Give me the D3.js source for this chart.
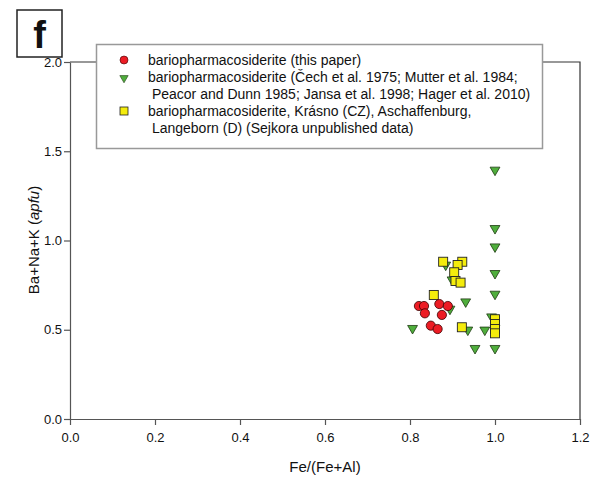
<!DOCTYPE html>
<html>
<head>
<meta charset="utf-8">
<script src="https://cdn.jsdelivr.net/npm/d3@7"></script>
<style>
  body { margin: 0; background: #fff; }
  text { font-family: "Liberation Sans", Arial, sans-serif; }
</style>
</head>
<body>
<div id="chart"></div>
<script>
// data: [Fe/(Fe+Al), Ba+Na+K]
var thisPaper = [
  [0.821, 0.633], [0.833, 0.633], [0.835, 0.592], [0.869, 0.644],
  [0.889, 0.633], [0.875, 0.583], [0.849, 0.523], [0.865, 0.504]
];
var literature = [
  [1.0, 1.395], [1.0, 1.068], [1.0, 0.965], [1.0, 0.816], [1.0, 0.70],
  [0.884, 0.863], [0.899, 0.78], [0.931, 0.657], [0.894, 0.616],
  [0.992, 0.573], [1.0, 0.51], [0.806, 0.508], [0.936, 0.499],
  [0.976, 0.499], [0.953, 0.396], [1.0, 0.396]
];
var sejkora = [
  [0.878, 0.881], [0.923, 0.881], [0.912, 0.863], [0.904, 0.822],
  [0.907, 0.773], [0.919, 0.764], [0.856, 0.695], [0.922, 0.514],
  [1.0, 0.559], [1.0, 0.532], [1.0, 0.504], [1.0, 0.480]
];
var xTicks = [0, 0.2, 0.4, 0.6, 0.8, 1.0, 1.2];
var yTicks = [0, 0.5, 1.0, 1.5, 2.0];
var legendLines = [
  ["bariopharmacosiderite (this paper)"],
  ["bariopharmacosiderite (Čech et al. 1975; Mutter et al. 1984;",
   " Peacor and Dunn 1985; Jansa et al. 1998; Hager et al. 2010)"],
  ["bariopharmacosiderite, Krásno (CZ), Aschaffenburg,",
   " Langeborn (D) (Sejkora unpublished data)"]
];

var W = 600, H = 482;
var margin = {top: 62, right: 20, bottom: 63, left: 70},
    width = 580 - margin.left,
    height = 419 - margin.top;

var svg = d3.select("#chart")
  .append("svg")
    .attr("width", W)
    .attr("height", H);

var g = svg.append("g")
    .attr("transform", "translate(" + margin.left + "," + margin.top + ")");

var x = d3.scaleLinear().domain([0, 1.2]).range([0, width]);
var y = d3.scaleLinear().domain([0, 2.0]).range([height, 0]);

// frame (top + right)
g.append("path")
    .attr("d", "M0,0H" + width + "V" + height)
    .attr("fill", "none")
    .attr("stroke", "#333")
    .attr("stroke-width", 1.2);

// x axis
var xAxis = g.append("g")
    .attr("transform", "translate(0," + height + ")")
    .call(d3.axisBottom(x).tickValues(xTicks).tickFormat(d3.format(".1f")).tickSize(6).tickSizeOuter(0));
// y axis
var yAxis = g.append("g")
    .call(d3.axisLeft(y).tickValues(yTicks).tickFormat(d3.format(".1f")).tickSize(6).tickSizeOuter(0));

[xAxis, yAxis].forEach(function(a) {
  a.select(".domain").attr("stroke", "#555").attr("stroke-width", 1.2);
  a.selectAll(".tick line").attr("stroke", "#555").attr("stroke-width", 1.2);
  a.selectAll(".tick text")
    .attr("fill", "#111")
    .style("font-size", "13px")
    .style("font-family", "'Liberation Sans', Arial, sans-serif");
});
xAxis.selectAll(".tick text").attr("dy", "1.1em");
yAxis.selectAll(".tick text").attr("x", -8);

// axis titles
svg.append("text")
    .attr("x", 325).attr("y", 472)
    .attr("text-anchor", "middle")
    .style("font-size", "15px")
    .attr("fill", "#111")
    .text("Fe/(Fe+Al)");

var yt = svg.append("text")
    .attr("transform", "translate(39,240) rotate(-90)")
    .attr("text-anchor", "middle")
    .style("font-size", "15px")
    .attr("fill", "#111");
yt.append("tspan").text("Ba+Na+K (");
yt.append("tspan").style("font-style", "italic").text("apfu");
yt.append("tspan").text(")");

// markers
var tri = d3.symbol().type(d3.symbolTriangle).size(42);

g.selectAll("path.lit")
    .data(literature)
    .enter()
    .append("path")
      .attr("class", "lit")
      .attr("d", tri)
      .attr("transform", function(d) { return "translate(" + x(d[0]) + "," + y(d[1]) + ") rotate(180)"; })
      .attr("fill", "#4fae3c")
      .attr("stroke", "#1e3a12")
      .attr("stroke-width", 0.8);

g.selectAll("rect.sej")
    .data(sejkora)
    .enter()
    .append("rect")
      .attr("class", "sej")
      .attr("x", function(d) { return x(d[0]) - 4.5; })
      .attr("y", function(d) { return y(d[1]) - 4.5; })
      .attr("width", 9).attr("height", 9)
      .attr("fill", "#f4ec0c")
      .attr("stroke", "#222")
      .attr("stroke-width", 0.9);

g.selectAll("circle.tp")
    .data(thisPaper)
    .enter()
    .append("circle")
      .attr("class", "tp")
      .attr("cx", function(d) { return x(d[0]); })
      .attr("cy", function(d) { return y(d[1]); })
      .attr("r", 4.6)
      .attr("fill", "#ec1c24")
      .attr("stroke", "#3a0000")
      .attr("stroke-width", 0.8);

// legend box
svg.append("rect")
    .attr("x", 96.5).attr("y", 44.5)
    .attr("width", 446).attr("height", 104)
    .attr("fill", "#fff")
    .attr("stroke", "#999")
    .attr("stroke-width", 1.5);

var lineY = [65, 82, 99, 116, 133];
var li = 0;
legendLines.forEach(function(lines, i) {
  var cy = lineY[li] - 5;
  if (i === 0) {
    svg.append("circle").attr("cx", 124).attr("cy", cy).attr("r", 4)
      .attr("fill", "#ec1c24").attr("stroke", "#3a0000").attr("stroke-width", 0.6);
  } else if (i === 1) {
    svg.append("path").attr("d", d3.symbol().type(d3.symbolTriangle).size(30))
      .attr("transform", "translate(124," + (cy + 1) + ") rotate(180)")
      .attr("fill", "#4fae3c").attr("stroke", "#1e3a12").attr("stroke-width", 0.6);
  } else {
    svg.append("rect").attr("x", 120).attr("y", cy - 4).attr("width", 8).attr("height", 8)
      .attr("fill", "#f4ec0c").attr("stroke", "#222").attr("stroke-width", 0.8);
  }
  lines.forEach(function(t) {
    svg.append("text")
      .attr("x", 148).attr("y", lineY[li])
      .style("font-size", "14px")
      .style("white-space", "pre")
      .attr("fill", "#111")
      .text(t);
    li++;
  });
});

// panel label
svg.append("rect")
    .attr("x", 17).attr("y", 10).attr("width", 45).attr("height", 47)
    .attr("fill", "#fff").attr("stroke", "#222").attr("stroke-width", 1.5);
svg.append("text")
    .attr("x", 39.5).attr("y", 48)
    .attr("text-anchor", "middle")
    .style("font-size", "38px")
    .style("font-weight", "bold")
    .attr("fill", "#111")
    .text("f");
</script>
</body>
</html>
